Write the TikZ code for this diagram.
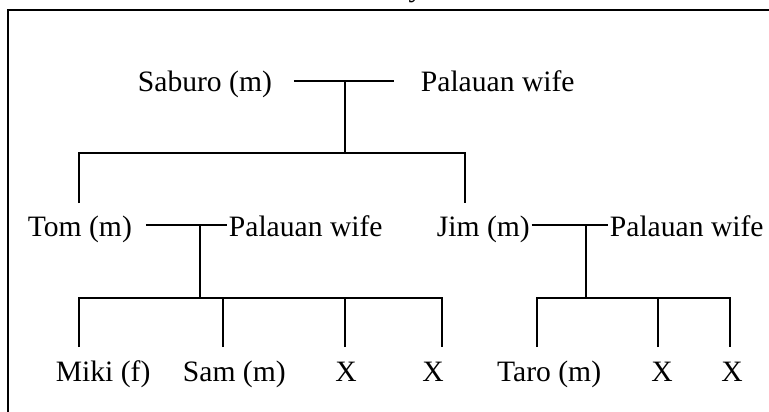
\documentclass[tikz,border=0pt]{standalone}
\usepackage{fontspec}
\setmainfont{Liberation Serif}
\usepackage{tikz}

\begin{document}
\begin{tikzpicture}[x=1pt,y=-1pt,line width=1.8pt,
    every node/.style={inner sep=0pt,text height=22pt,text depth=0pt,
      font=\fontsize{29.6}{36}\selectfont},
    person/.style={anchor=base west},
    frame/.style={line width=2.4pt}]
  \useasboundingbox (0,0) rectangle (769,412);

  % box round the tree, open at the right and bottom
  \draw[frame] (8,412) -- (8,10) -- (769,10);
  \node[anchor=base] (title) at (416,-3) {y};

  % first generation
  \node[person] (saburo) at (137,92) {Saburo (m)};
  \node[person] (wifeA) at (420,92) {Palauan wife};
  \coordinate (mA) at (345,81);
  \coordinate (barA) at (345,153);

  % second generation
  \node[person] (tom) at (27,236) {Tom (m)};
  \node[person] (wifeB) at (228,236) {Palauan wife};
  \node[person] (jim) at (436,236) {Jim (m)};
  \node[person] (wifeC) at (609,236) {Palauan wife};
  \coordinate (tomTop) at (79,203);
  \coordinate (jimTop) at (465,203);
  \coordinate (mB) at (200,225);
  \coordinate (barB) at (200,298);
  \coordinate (mC) at (586,225);
  \coordinate (barC) at (586,298);

  % third generation
  \node[person] (miki) at (55,381) {Miki (f)};
  \node[person] (sam) at (182,381) {Sam (m)};
  \node[anchor=base] (xA) at (346,381) {X};
  \node[anchor=base] (xB) at (433,381) {X};
  \node[anchor=base east] (taro) at (602,381) {Taro (m)};
  \node[anchor=base] (xC) at (662,381) {X};
  \node[anchor=base] (xD) at (732,381) {X};
  \coordinate (mikiTop) at (79,347);
  \coordinate (samTop) at (223,347);
  \coordinate (xATop) at (345,347);
  \coordinate (xBTop) at (442,347);
  \coordinate (taroTop) at (537,347);
  \coordinate (xCTop) at (658,347);
  \coordinate (xDTop) at (730,347);

  % marriages
  \draw[shorten <=21pt,shorten >=26pt] (saburo) -- (wifeA);
  \draw[shorten <=13pt,shorten >=1pt] (tom) -- (wifeB);
  \draw[shorten <=1pt,shorten >=1pt] (jim) -- (wifeC);

  % children
  \draw (mA) -- (barA);
  \draw (tomTop) |- (barA) -| (jimTop);

  \draw (mB) -- (barB);
  \draw (mikiTop) |- (barB) -| (xBTop);
  \draw (samTop) -- (samTop |- barB);
  \draw (xATop) -- (xATop |- barB);

  \draw (mC) -- (barC);
  \draw (taroTop) |- (barC) -| (xDTop);
  \draw (xCTop) -- (xCTop |- barC);
\end{tikzpicture}
\end{document}
